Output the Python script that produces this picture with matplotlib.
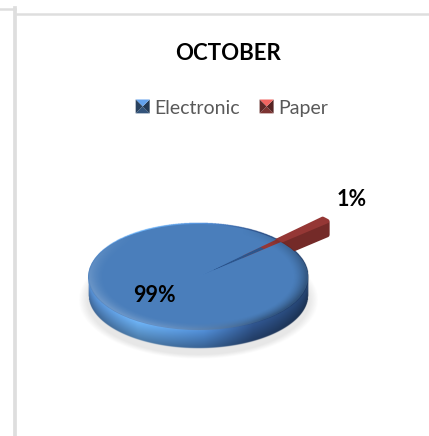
import numpy as np
import matplotlib
matplotlib.use("Agg")
import matplotlib.pyplot as plt
from matplotlib.legend_handler import HandlerBase
from matplotlib.lines import Line2D
from matplotlib.patches import Patch, Polygon, Wedge

plt.rcParams['font.family'] = ['Lato', 'DejaVu Sans']

# Share of documents per channel
title = "OCTOBER"
categories = ["Electronic", "Paper"]
values = [99, 1]

blue = "#4a7ebb"
red = "#953735"
red_side = "#742a28"

W, H = 429, 436
cx, cy = 198, 277      # pie centre, pixels from the top left
rx, ry = 110, 53       # tilted pie radii in pixels
depth = 18 / ry        # thickness of the disc in y units


class BevelHandler(HandlerBase):
    # small square made of four shaded triangles
    def create_artists(self, legend, orig, x, y, w, h, fontsize, trans):
        base = np.array(matplotlib.colors.to_rgb(orig.get_facecolor()))
        mid = (x + w / 2, y + h / 2)
        corners = [(x, y), (x + w, y), (x + w, y + h), (x, y + h)]
        tones = [0.65, 0.45, 1.25, 0.5]
        out = []
        for i, tone in enumerate(tones):
            pts = [corners[i], corners[(i + 1) % 4], mid]
            out.append(Polygon(pts, closed=True, lw=0, transform=trans,
                               facecolor=np.clip(base * tone, 0, 1)))
        return out


fig = plt.figure(figsize=(W / 100, H / 100), dpi=100, facecolor="white")
ax = fig.add_axes([0, 0, 1, 1])

wedges, _ = ax.pie(values, colors=[blue, red], startangle=44.8, counterclock=True,
                   explode=[0, 0.58], radius=1, center=(0, 0),
                   wedgeprops={"linewidth": 0})
ax.set_aspect("auto")
xlim = (-cx / rx, (W - cx) / rx)
ylim = ((cy - H) / ry, cy / ry)

wedges[0].set_zorder(6)
wedges[1].set_zorder(5)
wedges[1].set_edgecolor(red)
wedges[1].set_linewidth(3)
wedges[1].set_joinstyle("round")

# extruded side of the pulled-out slice
for k in np.arange(1, 15):
    side = Wedge((wedges[1].center[0], wedges[1].center[1] - k / ry), wedges[1].r,
                 wedges[1].theta1, wedges[1].theta2, facecolor=red_side,
                 edgecolor=red_side, linewidth=3, joinstyle="round", zorder=4)
    ax.add_patch(side)

# seam left on the disc by the pulled-out slice
ax.add_patch(Wedge((0, 0), 0.8, wedges[1].theta1, wedges[1].theta2,
                   facecolor="#2c558c", linewidth=0, zorder=5.5))
ax.add_patch(Wedge((0, 0), 0.2, wedges[1].theta1, wedges[1].theta2,
                   facecolor=blue, linewidth=0, zorder=6))

# shading grids in axis units
xs = np.linspace(-1.25, 1.25, 560)
ys = np.linspace(-1.9, 1.2, 660)
X, Y = np.meshgrid(xs, ys)
ext = [xs[0], xs[-1], ys[0], ys[-1]]

# soft ground shadow
rho = np.hypot(X / 1.03, (Y + depth + 0.09) / 1.05)
shadow = np.zeros(X.shape + (4,))
shadow[..., :3] = 0.62
shadow[..., 3] = 0.25 * np.clip((1.06 - rho) / 0.08, 0, 1)
ax.imshow(shadow, extent=ext, origin="lower", aspect="auto", zorder=1)

# disc side, lit from the lower left
s = np.sqrt(np.clip(1 - X ** 2, 0, None))
body = np.zeros(X.shape + (4,))
fade = np.clip((Y + s) / -depth, 0, 1)
stops = [-1, -0.55, 0.05, 0.5, 1]
body[..., 0] = np.interp(X, stops, [0.30, 0.38, 0.28, 0.17, 0.13])
body[..., 1] = np.interp(X, stops, [0.50, 0.62, 0.49, 0.30, 0.24])
body[..., 2] = np.interp(X, stops, [0.74, 0.85, 0.74, 0.50, 0.40])
body[..., :3] *= (1.15 - 0.38 * fade)[..., None]
body[..., :3] = np.clip(body[..., :3], 0, 1)
alpha = np.clip((Y + depth + s) * ry + 0.5, 0, 1) * np.clip((1 - np.abs(X)) * rx + 0.5, 0, 1)
body[..., 3] = alpha * (Y < s + 0.02)
ax.imshow(body, extent=ext, origin="lower", aspect="auto", zorder=2)

# rounded rim on the top face
rho = np.hypot(X, Y)
angle = np.arctan2(Y, X)
rim = np.zeros(X.shape + (4,))
lit = np.clip(-np.sin(angle) * 0.6 - np.cos(angle) * 0.8, 0, 1)
dark = np.clip(np.cos(angle) * 0.9 - np.sin(angle) * 0.4, 0, 1)
rim[..., :3] = (lit / (lit + dark + 1e-6))[..., None]
band = np.clip((rho - 0.86) / 0.14, 0, 1) ** 1.5
rim[..., 3] = band * (0.22 * lit + 0.4 * dark) * np.clip((1 - rho) * ry + 0.5, 0, 1)
ax.imshow(rim, extent=ext, origin="lower", aspect="auto", zorder=7)

ax.set_xlim(xlim)
ax.set_ylim(ylim)
ax.axis("off")


def to_axis(px, py):
    return (px - cx) / rx, (cy - py) / ry


# value labels
ax.text(*to_axis(154, 295), f"{values[0]}%", fontsize=15.5, fontweight="bold",
        color="black", ha="center", va="center", zorder=8)
ax.text(*to_axis(352, 199), f"{values[1]}%", fontsize=15.5, fontweight="bold",
        color="black", ha="center", va="center", zorder=8)

fig.text(228 / W, 1 - 54 / H, title, fontsize=16, fontweight="bold",
         color="black", ha="center", va="center")

handles = [Patch(facecolor="#4f81bd", label=categories[0]),
           Patch(facecolor="#c0504d", label=categories[1])]
fig.legend(handles=handles, loc="center", bbox_to_anchor=(232 / W, 1 - 108 / H),
           ncol=2, frameon=False, fontsize=14, labelcolor="#595959",
           handlelength=0.72, handleheight=0.72, handletextpad=0.25, columnspacing=1.0,
           handler_map={Patch: BevelHandler()})

# page frame lines
frame = "#dedede"
frame_lines = [((0, 15), (9, 9), 2), ((15.5, 15.5), (8, H), 3), ((17, W), (14.5, 14.5), 2)]
for xp, yp, lw in frame_lines:
    fig.add_artist(Line2D([xp[0] / W, xp[1] / W], [1 - yp[0] / H, 1 - yp[1] / H],
                          color=frame, lw=lw * 0.9, transform=fig.transFigure))

fig.savefig("out.png", dpi=100)
